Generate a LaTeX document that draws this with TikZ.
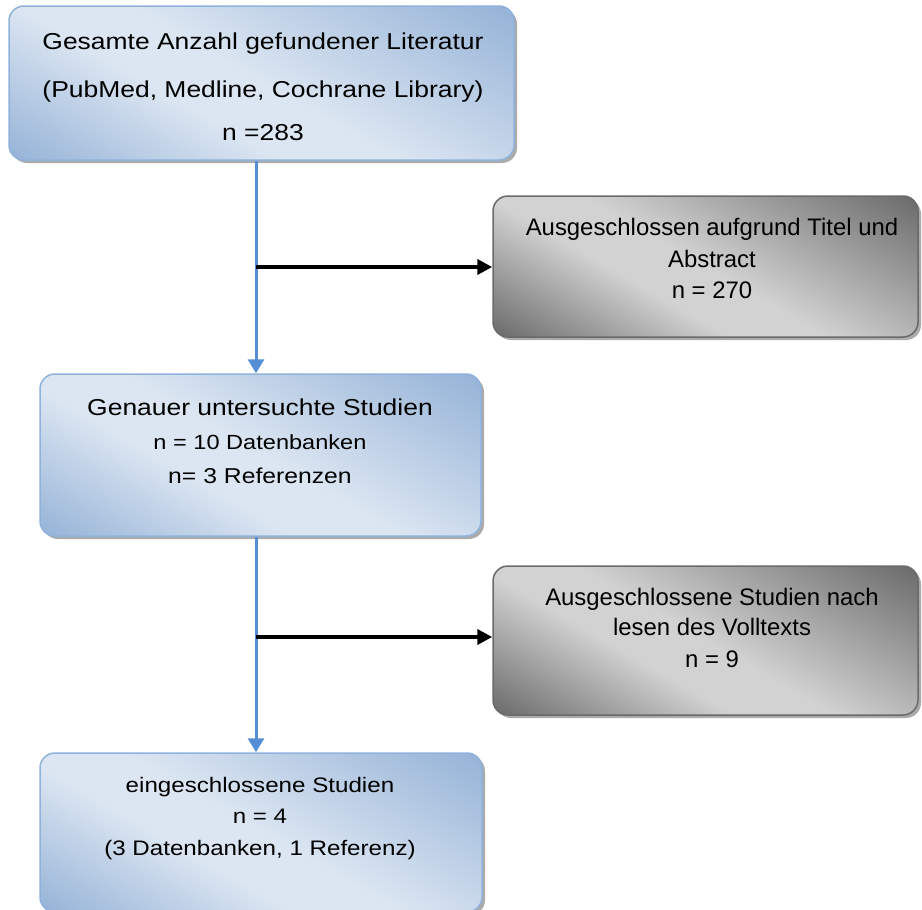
\documentclass[tikz,border=0pt]{standalone}
\usepackage{fontspec}
\setmainfont{Liberation Sans}
\newfontfamily\bluefont{Liberation Sans}[FakeStretch=1.15]
\usetikzlibrary{arrows.meta,shadows}
\definecolor{bdark}{HTML}{95B3D7}
\definecolor{blight}{HTML}{DCE6F2}
\definecolor{bborder}{HTML}{8FB2DC}
\definecolor{bline}{HTML}{558ED5}
\definecolor{gdark}{HTML}{6B6B6B}
\definecolor{glight}{HTML}{D2D2D2}
\definecolor{gborder}{HTML}{6A6A6A}
\definecolor{shadowgrey}{HTML}{ABABAB}
\pgfdeclareverticalshading{bluediag}{100bp}{color(0bp)=(bdark); color(16bp)=(bdark); color(40bp)=(blight); color(50bp)=(blight); color(84bp)=(bdark); color(100bp)=(bdark)}
\pgfdeclareverticalshading{greydiag}{100bp}{color(0bp)=(gdark); color(16bp)=(gdark); color(40bp)=(glight); color(50bp)=(glight); color(84bp)=(gdark); color(100bp)=(gdark)}
\begin{document}
\begin{tikzpicture}[x=1pt,y=-1pt,
  boxbase/.style={line width=1.5pt, rounded corners=15pt, inner sep=0pt, shade, shading angle=-30,
    drop shadow={shadow xshift=3pt, shadow yshift=-3pt, fill=shadowgrey, opacity=1}},
  bluebox/.style={boxbase, draw=bborder, shading=bluediag},
  greybox/.style={boxbase, draw=gborder, shading=greydiag},
  txt/.style={anchor=base, inner sep=0pt, text=black},
  btxt/.style={txt, font=\bluefont\fontsize{#1}{#1}\selectfont},
  gtxt/.style={txt, font=\fontsize{23.9pt}{24pt}\selectfont},
  bluearr/.style={draw=bline, line width=3pt, -{Triangle[width=16pt,length=14pt]}},
  blackarr/.style={draw=black, line width=4pt, -{Triangle[width=15pt,length=15pt]}}]
\fill[white] (0,0) rectangle (922,910);
\useasboundingbox (0,0) rectangle (922,910);

\node[bluebox, minimum width=505pt, minimum height=154pt] (b1) at (261.5,83) {};
\node[bluebox, minimum width=441pt, minimum height=162pt] (b2) at (260.5,455) {};
\node[bluebox, minimum width=442pt, minimum height=159pt] (b3) at (261,832.5) {};
\node[greybox, minimum width=425pt, minimum height=141pt] (g1) at (705.5,266.5) {};
\node[greybox, minimum width=425pt, minimum height=149pt] (g2) at (705.5,640.5) {};

\node[btxt=23pt] (b1a) at (263,49) {Gesamte Anzahl gefundener Literatur};
\node[btxt=23pt] (b1b) at (263,97) {(PubMed, Medline, Cochrane Library)};
\node[btxt=23pt] (b1c) at (263,140) {n =283};

\node[btxt=23pt] (b2a) at (260,415) {Genauer untersuchte Studien};
\node[btxt=20.5pt] (b2b) at (260,449) {n = 10 Datenbanken};
\node[btxt=21.5pt] (b2c) at (260,483) {n= 3 Referenzen};

\node[btxt=21pt] (b3a) at (260,792) {eingeschlossene Studien};
\node[btxt=21pt] (b3b) at (260,823) {n = 4};
\node[btxt=21pt] (b3c) at (260,855) {(3 Datenbanken, 1 Referenz)};

\node[gtxt] (g1a) at (712,235) {Ausgeschlossen aufgrund Titel und};
\node[gtxt] (g1b) at (712,267) {Abstract};
\node[gtxt] (g1c) at (712,298) {n = 270};

\node[gtxt] (g2a) at (712,605) {Ausgeschlossene Studien nach};
\node[gtxt] (g2b) at (712,635) {lesen des Volltexts};
\node[gtxt] (g2c) at (712,667) {n = 9};

\coordinate (j1) at (256,267);
\coordinate (j2) at (256,637);
\draw[bluearr] (b1.south -| j1) -- (b2.north -| j1);
\draw[bluearr] (b2.south -| j2) -- (b3.north -| j2);
\draw[blackarr] (j1) -- (j1 -| g1.west);
\draw[blackarr] (j2) -- (j2 -| g2.west);
\end{tikzpicture}
\end{document}
